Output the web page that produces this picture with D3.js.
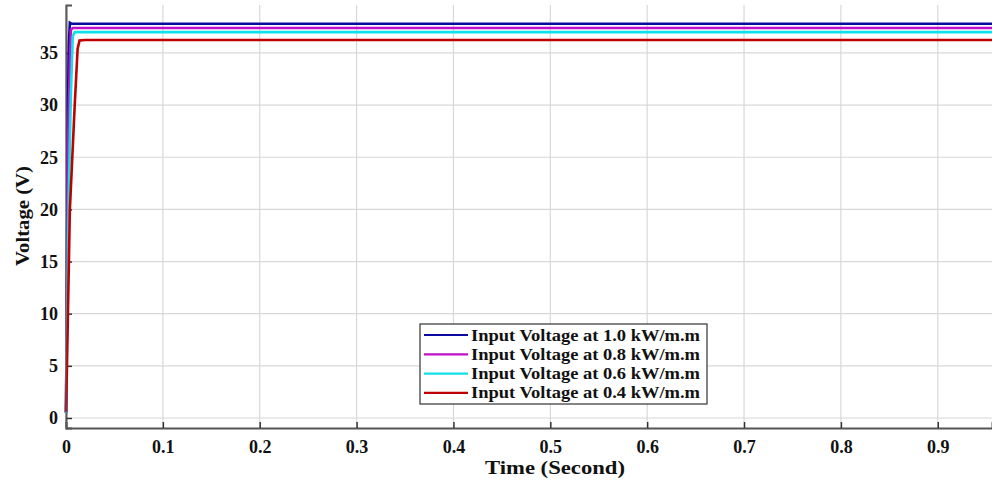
<!DOCTYPE html>
<html><head><meta charset="utf-8">
<script src="https://cdn.jsdelivr.net/npm/d3@7"></script>
<style>body{margin:0;background:#fff}svg{display:block}text{font-family:"Liberation Serif","Times New Roman",serif;font-weight:bold}</style>
</head><body><svg id="c" width="992" height="483"></svg>
<script>
const xTicks=[0,0.1,0.2,0.3,0.4,0.5,0.6,0.7,0.8,0.9];
const yTicks=[0,5,10,15,20,25,30,35];
const seriesNames=["Input Voltage at 1.0 kW/m.m","Input Voltage at 0.8 kW/m.m","Input Voltage at 0.6 kW/m.m","Input Voltage at 0.4 kW/m.m"];
const seriesColors=["#0a0aa0","#c010c8","#10e0e8","#c00000"];
const t1=[0,0.001,0.002,0.003,0.004,0.006,0.01,0.1,0.3,0.5,0.7,0.9,0.956];
const v1=[0.5,14,30,36,37.9,37.8,37.8,37.8,37.8,37.8,37.8,37.8,37.8];
const t2=[0,0.001,0.002,0.004,0.005,0.007,0.01,0.1,0.3,0.5,0.7,0.9,0.956];
const v2=[0.5,12,26,34,37.2,37.4,37.4,37.4,37.4,37.4,37.4,37.4,37.4];
const t3=[0,0.001,0.003,0.005,0.007,0.009,0.012,0.1,0.3,0.5,0.7,0.9,0.956];
const v3=[0.5,10,22,31,36.6,37.0,37.0,37.0,37.0,37.0,37.0,37.0,37.0];
const t4=[0,0.001,0.004,0.007,0.009,0.012,0.014,0.02,0.1,0.3,0.5,0.7,0.9,0.956];
const v4=[0.6,5,20,26,30,35.4,36.2,36.25,36.25,36.25,36.25,36.25,36.25,36.25];
const series=[[t1,v1],[t2,v2],[t3,v3],[t4,v4]];

const svg=d3.select("#c");
const L=66,R=992,T=5,B=428;
const x=d3.scaleLinear().domain([0,0.956]).range([L,R]);
const y=d3.scaleLinear().domain([-0.96,39.6]).range([B,T]);

// grid
svg.append("g").selectAll("line").data(xTicks.slice(1)).join("line")
 .attr("x1",d=>x(d)).attr("x2",d=>x(d)).attr("y1",T).attr("y2",B)
 .attr("stroke","#d8d8d8").attr("stroke-width",1.2);
svg.append("g").selectAll("line").data(yTicks).join("line")
 .attr("x1",L).attr("x2",R).attr("y1",d=>y(d)).attr("y2",d=>y(d))
 .attr("stroke","#d8d8d8").attr("stroke-width",1.2);

// axes
const xa=svg.append("g").attr("transform",`translate(0,${B})`)
 .call(d3.axisBottom(x).tickValues(xTicks).tickSize(-6).tickPadding(12).tickFormat(d=>d===0?"0":d3.format(".1f")(d)));
const ya=svg.append("g").attr("transform",`translate(${L},0)`)
 .call(d3.axisLeft(y).tickValues(yTicks).tickSize(-6).tickPadding(8));
[xa,ya].forEach(a=>{
 a.select(".domain").attr("stroke","#555").attr("stroke-width",2);
 a.selectAll(".tick line").attr("stroke","#333").attr("stroke-width",1.5);
 a.selectAll(".tick text").attr("font-size",18).attr("fill","#111").attr("font-family","Liberation Serif, serif").attr("font-weight","bold");
});

// lines
const line=d3.line();
series.forEach((s,i)=>{
 const pts=s[0].map((t,k)=>[x(t),y(s[1][k])]);
 svg.append("path").attr("d",line(pts)).attr("fill","none")
  .attr("stroke",seriesColors[i]).attr("stroke-width",2.6);
});
svg.append("line").attr("x1",L).attr("x2",L).attr("y1",T).attr("y2",B).attr("stroke","#666").attr("stroke-width",1.5).attr("opacity",0.5);

// titles
svg.append("text").attr("x",555).attr("y",474).attr("text-anchor","middle").attr("font-size",19).attr("textLength",140).attr("lengthAdjust","spacingAndGlyphs").attr("fill","#111").text("Time (Second)");
svg.append("text").attr("transform","translate(29,216) rotate(-90)").attr("text-anchor","middle").attr("font-size",18).attr("textLength",100).attr("lengthAdjust","spacingAndGlyphs").attr("fill","#111").text("Voltage (V)");

// legend
const lg=svg.append("g");
lg.append("rect").attr("x",420).attr("y",324).attr("width",287).attr("height",80).attr("fill","#fff").attr("stroke","#333").attr("stroke-width",1.2);
seriesNames.forEach((n,i)=>{
 const yy=335+i*19.3;
 lg.append("line").attr("x1",424).attr("x2",468).attr("y1",yy).attr("y2",yy).attr("stroke",seriesColors[i]).attr("stroke-width",2.2);
 lg.append("text").attr("x",471).attr("y",yy+5.5).attr("font-size",16.5).attr("textLength",229).attr("lengthAdjust","spacingAndGlyphs").attr("fill","#111").text(n);
});
</script></body></html>
